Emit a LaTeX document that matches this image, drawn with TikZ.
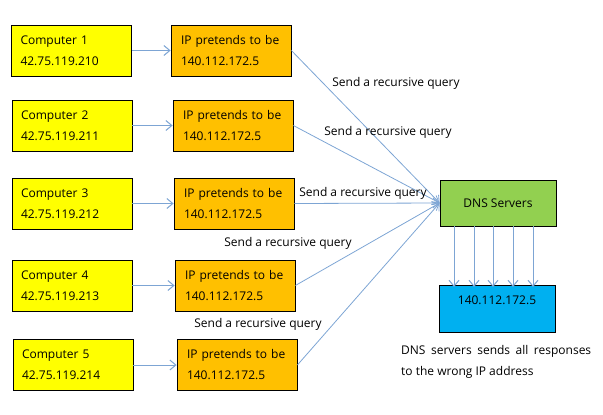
\documentclass[tikz,border=0pt]{standalone}
\usepackage{fontspec}
\setmainfont{Open Sans}
\usetikzlibrary{arrows.meta,calc}
\definecolor{compyellow}{RGB}{255,255,0}
\definecolor{iporange}{RGB}{255,192,0}
\definecolor{dnsgreen}{RGB}{146,208,80}
\definecolor{ipblue}{RGB}{0,176,240}
\definecolor{arrowblue}{RGB}{125,165,212}
\begin{document}
\begin{tikzpicture}[x=1pt,y=-1pt,
  font=\fontsize{12}{21}\selectfont,
  boxbase/.style={draw=black,line width=0.8pt,minimum width=120pt,minimum height=51pt,
    inner xsep=9pt,text width=102pt,align=left,inner ysep=0pt},
  compbox/.style={boxbase,fill=compyellow},
  ipbox/.style={boxbase,fill=iporange,inner xsep=10pt,text width=100pt},
  arr/.style={draw=arrowblue,line width=1pt,-{Straight Barb[length=6pt,width=10pt]}},
  qarr/.style={draw=arrowblue,line width=0.8pt,-{Straight Barb[length=6pt,width=10pt]}},
  lbl/.style={inner sep=0pt}
]
\useasboundingbox (0,0) rectangle (603,415);

\node[compbox] (c1) at (71.5,50.5) {Computer 1\\42.75.119.210};
\node[compbox] (c2) at (72,125.5) {Computer 2\\42.75.119.211};
\node[compbox] (c3) at (72,203.5) {Computer 3\\42.75.119.212};
\node[compbox] (c4) at (72,285.5) {Computer 4\\42.75.119.213};
\node[compbox] (c5) at (73,365) {Computer 5\\42.75.119.214};

\node[ipbox] (p1) at (231,50.5) {IP pretends to be\\140.112.172.5};
\node[ipbox] (p2) at (233,125.5) {IP pretends to be\\140.112.172.5};
\node[ipbox] (p3) at (234,203.5) {IP pretends to be\\140.112.172.5};
\node[ipbox] (p4) at (235,285.5) {IP pretends to be\\140.112.172.5};
\node[ipbox] (p5) at (237,365) {IP pretends to be\\140.112.172.5};

\node[draw=black,line width=0.8pt,fill=dnsgreen,minimum width=116pt,minimum height=46pt,inner sep=0pt] (dns) at (498,203) {DNS Servers};
\node[draw=black,line width=0.8pt,fill=ipblue,minimum width=116pt,minimum height=47pt,inner sep=0pt,anchor=north] (blue) at (497,285) {};
\node[lbl] (bluetxt) at (497,300) {140.112.172.5};

\foreach \i in {1,...,5} {
  \draw[arr] (c\i) -- (p\i);
  \draw[qarr] (p\i.east) -- (dns.west);
}

\foreach \o in {-44,-24,-5,15,35} {
  \draw[arr] ([xshift=\o pt]dns.south) -- ([xshift=\o pt,yshift=-2pt]dns.south |- blue.north);
}

\node[lbl] (q1) at (396,83) {Send a recursive query};
\node[lbl] (q2) at (388,132) {Send a recursive query};
\node[lbl] (q3) at (363,193) {Send a recursive query};
\node[lbl] (q4) at (288,243) {Send a recursive query};
\node[lbl] (q5) at (258,324) {Send a recursive query};

\node[lbl,anchor=north west,text width=190pt,align=justify] (note) at (401,345)
  {DNS servers sends all responses\linebreak to the wrong IP address};
\end{tikzpicture}
\end{document}
